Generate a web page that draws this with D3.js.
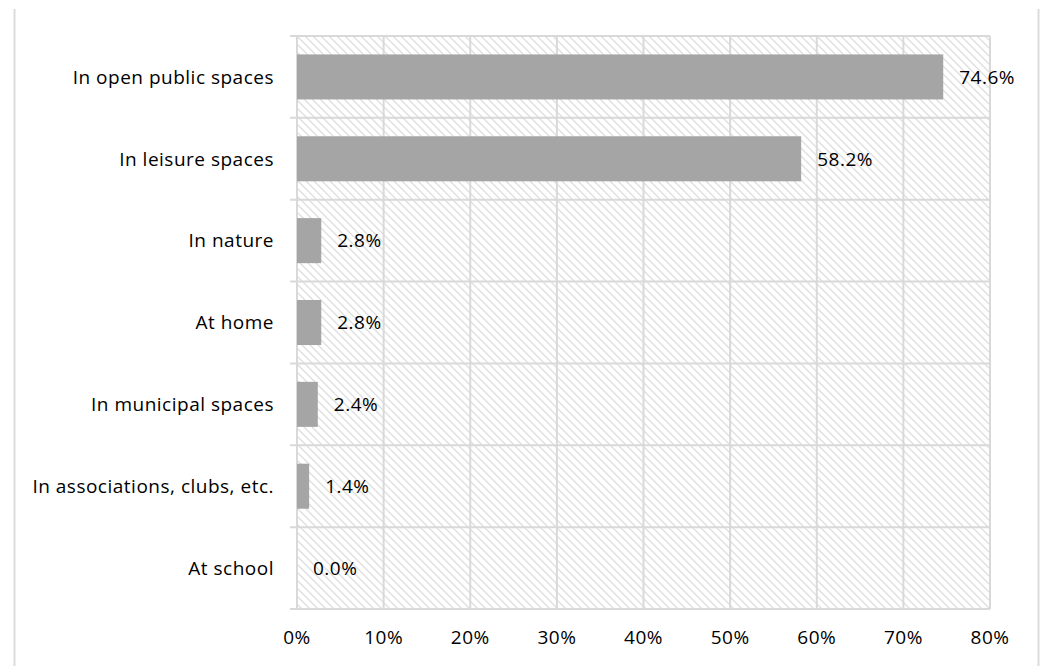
<!DOCTYPE html>
<html>
<head>
<meta charset="utf-8">
<script src="https://cdn.jsdelivr.net/npm/d3@7/dist/d3.min.js"></script>
<style>
  html, body { margin: 0; padding: 0; background: #fff; }
  svg { display: block; }
  text { font-family: "Open Sans", Lato, sans-serif; fill: #000; letter-spacing: 0.5px; }
</style>
</head>
<body>
<svg id="chart" width="1046" height="666"></svg>
<script>
// Where people spend their free time (share of respondents)
const categories = [
  "In open public spaces",
  "In leisure spaces",
  "In nature",
  "At home",
  "In municipal spaces",
  "In associations, clubs, etc.",
  "At school"
];
const values = [74.6, 58.2, 2.8, 2.8, 2.4, 1.4, 0.0];
const xTicks = [0, 10, 20, 30, 40, 50, 60, 70, 80];

const W = 1046, H = 666;
const margin = { top: 36, right: 56, bottom: 57, left: 297 };
const innerW = W - margin.left - margin.right;
const innerH = H - margin.top - margin.bottom;
const fontSize = 19;

const svg = d3.select("#chart");
const grid = "#d9d9d9";

// hatched plot background
const defs = svg.append("defs");
const pat = defs.append("pattern")
  .attr("id", "hatch")
  .attr("patternUnits", "userSpaceOnUse")
  .attr("width", 8).attr("height", 8);
pat.append("path")
  .attr("d", "M-2,-2 L10,10 M-2,6 L2,10 M6,-2 L10,2")
  .attr("stroke", "#dedede").attr("stroke-width", 1.3).attr("fill", "none");

// outer frame edges
svg.append("line").attr("x1", 14.5).attr("x2", 14.5).attr("y1", 9).attr("y2", H)
  .attr("stroke", "#dcdcdc").attr("stroke-width", 2);
svg.append("line").attr("x1", 1038.5).attr("x2", 1038.5).attr("y1", 9).attr("y2", H)
  .attr("stroke", "#dcdcdc").attr("stroke-width", 2);

const g = svg.append("g").attr("transform", `translate(${margin.left},${margin.top})`);

const x = d3.scaleLinear().domain([0, 80]).range([0, innerW]);
const y = d3.scaleBand().domain(categories).range([0, innerH]).paddingInner(0.45).paddingOuter(0.225);
const yEdges = d3.scaleLinear().domain([0, categories.length]).range([0, innerH]);

g.append("rect").attr("width", innerW).attr("height", innerH).attr("fill", "url(#hatch)");

// vertical gridlines
g.selectAll(".vgrid").data(xTicks).join("line")
  .attr("x1", d => x(d)).attr("x2", d => x(d))
  .attr("y1", 0).attr("y2", innerH)
  .attr("stroke", grid).attr("stroke-width", 2);

// horizontal band separators with ticks extending left
g.selectAll(".hgrid").data(d3.range(categories.length + 1)).join("line")
  .attr("x1", -7).attr("x2", innerW)
  .attr("y1", d => yEdges(d)).attr("y2", d => yEdges(d))
  .attr("stroke", grid).attr("stroke-width", 2);

// bars
g.selectAll(".bar").data(values).join("rect")
  .attr("x", x(0))
  .attr("y", (d, i) => y(categories[i]))
  .attr("width", d => x(d) - x(0))
  .attr("height", y.bandwidth())
  .attr("fill", "#a5a5a5");

// value labels
g.selectAll(".val").data(values).join("text")
  .attr("x", d => x(d) + 16)
  .attr("y", (d, i) => y(categories[i]) + y.bandwidth() / 2)
  .attr("dy", "0.36em")
  .attr("font-size", fontSize)
  .text(d => d.toFixed(1) + "%");

// category labels
g.selectAll(".cat").data(categories).join("text")
  .attr("x", -23)
  .attr("y", d => y(d) + y.bandwidth() / 2)
  .attr("dy", "0.36em")
  .attr("text-anchor", "end")
  .attr("font-size", fontSize)
  .text(d => d);

// x tick labels
g.selectAll(".xt").data(xTicks).join("text")
  .attr("x", d => x(d))
  .attr("y", innerH + 28)
  .attr("dy", "0.36em")
  .attr("text-anchor", "middle")
  .attr("font-size", fontSize)
  .text(d => d + "%");
</script>
</body>
</html>
